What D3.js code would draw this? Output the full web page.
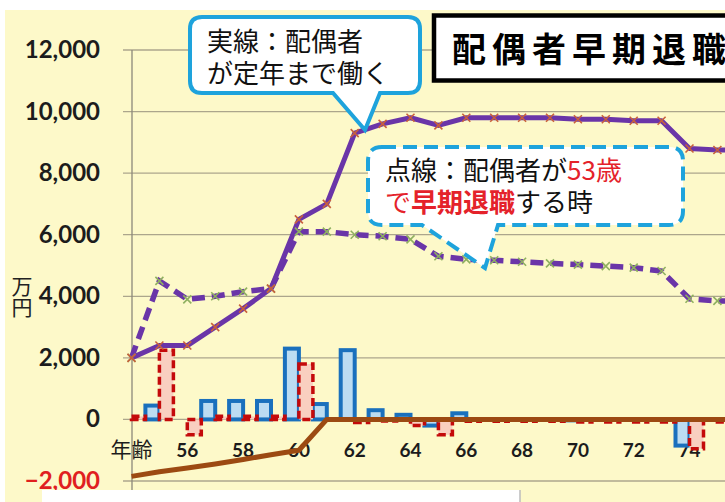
<!DOCTYPE html>
<html>
<head>
<meta charset="utf-8">
<script src="https://cdn.jsdelivr.net/npm/d3@7/dist/d3.min.js"></script>
<style>
html,body{margin:0;padding:0;background:#fff;overflow:hidden;}
svg{display:block;}
</style>
</head>
<body>
<svg id="chart" width="725" height="502"></svg>
<script>
// ages along the bottom (first category shows as 年齢)
var ages = [54,55,56,57,58,59,60,61,62,63,64,65,66,67,68,69,70,71,72,73,74,75,76];
var ageLabels = ["年齢","55","56","57","58","59","60","61","62","63","64","65","66","67","68","69","70","71","72","73","74","75","76"];
var yTicks = [-2000,0,2000,4000,6000,8000,10000,12000];

// 実線: 配偶者が定年まで働く
var workToRetire = [2000,2400,2400,3000,3600,4250,6500,7000,9300,9600,9800,9550,9800,9800,9800,9800,9750,9750,9700,9700,8800,8750,8750];
// 点線: 配偶者が53歳で早期退職
var earlyRetire = [2000,4500,3900,4000,4150,4250,6100,6100,6000,5950,5850,5300,5200,5170,5120,5070,5030,4980,4930,4820,3920,3850,3850];
// brown line
var brownSeries = [-1850,-1700,-1580,-1450,-1300,-1150,-1000,0,0,0,0,0,0,0,0,0,0,0,0,0,0,0,0];
// bars
var blueBars = [0,450,0,600,600,600,2300,500,2250,300,150,-200,200,0,0,0,-30,0,0,0,-850,0,0];
var redBars = [100,2250,-500,100,100,100,1800,0,-100,-50,-200,-500,-60,-60,-60,-60,-80,-80,-80,-80,-950,-80,-80];

var svg = d3.select('#chart');
var W = 725, H = 502;

var x = d3.scaleLinear().domain([54,76]).range([131.5, 131.5+22*27.9]);
var y = d3.scaleLinear().domain([-2000,12000]).range([481,50]);
var barW = 14;
var jp = '"Noto Sans CJK JP", sans-serif';

// background
svg.append('rect').attr('x',0).attr('y',0).attr('width',W).attr('height',H).attr('fill','#ffffff');
svg.append('rect').attr('x',5).attr('y',10).attr('width',W-5).attr('height',H-10).attr('fill','#fdf9c9');

// gridlines
svg.selectAll('.grid').data(yTicks).enter().append('line')
    .attr('class','grid')
    .attr('x1',123).attr('x2',W)
    .attr('y1',function(d){return y(d);}).attr('y2',function(d){return y(d);})
    .attr('stroke','#aca68c').attr('stroke-width',1.3);

// y axis line
svg.append('line').attr('x1',132).attr('x2',132).attr('y1',50).attr('y2',492)
    .attr('stroke','#8c887a').attr('stroke-width',1.3);

// y tick labels
svg.selectAll('.ylab').data(yTicks).enter().append('text')
    .attr('class','ylab')
    .attr('x',100).attr('y',function(d){return y(d)+8;})
    .attr('text-anchor','end')
    .style('font-family','Lato, "Open Sans", sans-serif')
    .style('font-weight','bold').style('font-size','24px')
    .attr('fill',function(d){return d<0 ? '#e0201e' : '#1c1c1c';})
    .text(function(d){return d3.format(',')(d);});

// unit 万円 (vertical)
svg.append('text').attr('x',22).attr('y',276)
    .style('writing-mode','vertical-rl').style('text-orientation','upright')
    .style('font-family',jp).style('font-size','21px')
    .attr('fill','#222').text('万円');

// x labels every other age, only those inside the picture
svg.selectAll('.xlab').data(ages.filter(function(d,i){return i%2==0 && x(d)<W-10;})).enter().append('text')
    .attr('class','xlab')
    .attr('x',function(d){return x(d);}).attr('y',457)
    .attr('text-anchor','middle')
    .attr('fill','#1c1c1c')
    .style('font-family',function(d){return d==54 ? jp : 'Lato, sans-serif';})
    .style('font-weight',function(d){return d==54 ? 'normal' : 'bold';})
    .style('font-size',function(d){return d==54 ? '21px' : '19px';})
    .text(function(d){return ageLabels[ages.indexOf(d)];});

// bars
function barRect(sel, offset){
    sel.attr('x',function(d,i){return x(ages[i])+offset;})
       .attr('y',function(d){return y(Math.max(0,d));})
       .attr('width',barW)
       .attr('height',function(d){return Math.abs(y(d)-y(0));});
}
var blue = svg.selectAll('.bbar').data(blueBars).enter().append('rect')
    .attr('class','bbar')
    .attr('fill','#bcdcf2').attr('stroke','#1a70bd').attr('stroke-width',4);
barRect(blue, -barW);
var red = svg.selectAll('.rbar').data(redBars).enter().append('rect')
    .attr('class','rbar')
    .attr('fill','#f9cfc0').attr('stroke','#c40a0a').attr('stroke-width',3.5)
    .attr('stroke-dasharray','8,4');
barRect(red, 0);

// lines
function lineOf(vals){
    return d3.line().x(function(d,i){return x(ages[i]);}).y(function(d){return y(d);})(vals);
}
svg.append('path').attr('d',lineOf(brownSeries)).attr('fill','none')
    .attr('stroke','#9c4a12').attr('stroke-width',5).attr('stroke-linejoin','round');
svg.append('path').attr('d',lineOf(earlyRetire)).attr('fill','none')
    .attr('stroke','#6a35a8').attr('stroke-width',5.5).attr('stroke-dasharray','13,7');
svg.append('path').attr('d',lineOf(workToRetire)).attr('fill','none')
    .attr('stroke','#6a35a8').attr('stroke-width',5).attr('stroke-linejoin','round');

function markers(vals, col, cls){
    svg.selectAll('.'+cls).data(vals).enter().append('path')
        .attr('class',cls)
        .attr('d','M-4,-4L4,4M-4,4L4,-4')
        .attr('transform',function(d,i){return 'translate('+x(ages[i])+','+y(d)+')';})
        .attr('stroke',col).attr('stroke-width',1.6).attr('fill','none');
}
markers(earlyRetire,'#8fb060','mk1');
markers(workToRetire,'#c8603c','mk2');

// callout 1 (solid border)
var cb = '#1ea3dc';
var p1 = 'M202,17 H408 Q420,17 420,29 V81 Q420,93 408,93 H380 L365,130 L333,93 H202 Q190,93 190,81 V29 Q190,17 202,17 Z';
svg.append('path').attr('d',p1).attr('fill','#ffffff').attr('stroke',cb).attr('stroke-width',4);
var c1 = svg.append('text').style('font-family',jp).style('font-size','26px').attr('fill','#111');
c1.append('tspan').attr('x',207).attr('y',51).text('実線：配偶者');
c1.append('tspan').attr('x',207).attr('y',83).text('が定年まで働く');

// callout 2 (dashed border)
var p2 = 'M382,147 H669 Q683,147 683,161 V211 Q683,225 669,225 H498 L485,268 L422,225 H382 Q368,225 368,211 V161 Q368,147 382,147 Z';
svg.append('path').attr('d',p2).attr('fill','#ffffff').attr('stroke',cb).attr('stroke-width',4)
    .attr('stroke-dasharray','14,7');
var red1 = '#e4222a';
var c2 = svg.append('text').style('font-family',jp).style('font-size','26px').attr('fill','#111');
c2.append('tspan').attr('x',385).attr('y',180).text('点線：配偶者が');
c2.append('tspan').attr('fill',red1).text('53歳');
c2.append('tspan').attr('x',385).attr('y',212).attr('fill',red1).text('で');
c2.append('tspan').attr('fill',red1).style('font-weight','bold').text('早期退職');
c2.append('tspan').text('する時');

// title box
svg.append('rect').attr('x',434).attr('y',15.5).attr('width',400).attr('height',65)
    .attr('fill','#ffffff').attr('stroke','#000').attr('stroke-width',4.5);
svg.append('text').attr('x',452).attr('y',62).style('font-family',jp).style('font-weight','bold')
    .style('font-size','34px').style('letter-spacing','6px').attr('fill','#000').text('配偶者早期退職');

// white strip at bottom
svg.append('rect').attr('x',42).attr('y',490).attr('width',478).attr('height',12).attr('fill','#ffffff');
svg.append('line').attr('x1',520).attr('x2',520).attr('y1',490).attr('y2',502).attr('stroke','#bbb').attr('stroke-width',1.5);
</script>
</body>
</html>
